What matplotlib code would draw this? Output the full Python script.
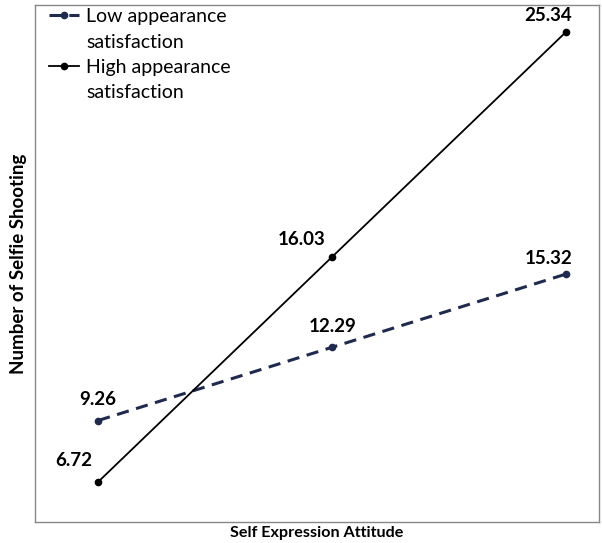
import matplotlib.pyplot as plt
from matplotlib.lines import Line2D

plt.rcParams['font.family'] = ['Lato', 'DejaVu Sans']

x = [1, 2, 3]
low = [9.26, 12.29, 15.32]
high = [6.72, 16.03, 25.34]
low_label = ['Low appearance', 'satisfaction']
high_label = ['High appearance', 'satisfaction']

fig = plt.figure(figsize=(6.02, 5.43), dpi=100)
ax = fig.add_axes([0.058, 0.039, 0.937, 0.952])

l1, = ax.plot(x, low, color='#1f2a4f', lw=2.2, ls=(0, (4, 2.5)), marker='o', ms=4.5)
l2, = ax.plot(x, high, color='black', lw=1.3, marker='o', ms=4.5)

ax.set_xlim(0.73, 3.14)
ax.set_ylim(5.07, 26.45)
ax.set_xticks([])
ax.set_yticks([])
for s in ax.spines.values():
    s.set_color('#888888')
    s.set_linewidth(1)

# value labels (offsets in pixels)
offs_low = [(0, 21), (0, 21), (-18, 15)]
offs_high = [(-24, 21), (-31, 17), (-18, 16)]
for xi, yi, o in zip(x, low, offs_low):
    ax.annotate(f'{yi:.2f}', (xi, yi), textcoords='offset pixels', xytext=o,
                ha='center', va='center', fontsize=13.5, fontweight='bold')
for xi, yi, o in zip(x, high, offs_high):
    ax.annotate(f'{yi:.2f}', (xi, yi), textcoords='offset pixels', xytext=o,
                ha='center', va='center', fontsize=13.5, fontweight='bold')

ax.set_xlabel('Self Expression Attitude', fontsize=11.6, fontweight='bold', labelpad=3)
ax.set_ylabel('Number of Selfie Shooting', fontsize=13.5, fontweight='bold', labelpad=6)

# legend: first line of each label carries the handle, like the original
blank = Line2D([], [], color='none')
ax.legend([l1, blank, l2, blank], low_label + high_label,
          loc='upper left', frameon=False, fontsize=14, handlelength=1.55,
          handletextpad=0.4, borderaxespad=0.3, labelspacing=0.43,
          bbox_to_anchor=(0.0, 1.02))

fig.savefig('out.png', dpi=100)
